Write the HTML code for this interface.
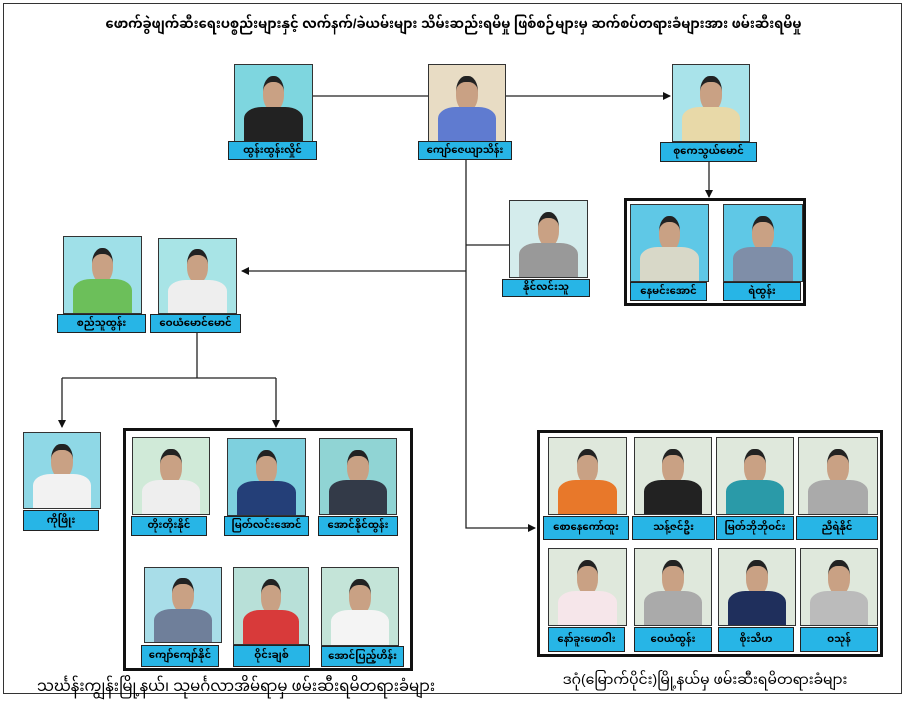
<!DOCTYPE html>
<html><head><meta charset="utf-8"><style>
body{margin:0;width:907px;height:699px;background:#fff;position:relative;overflow:hidden;font-family:"Liberation Sans","Noto Sans Myanmar","Padauk","Myanmar Text",sans-serif}
.a{position:absolute}
.p{position:absolute;border:1px solid #333;background:#c9e6e4;overflow:hidden}
.p .h{position:absolute;left:36%;top:14%;width:28%;height:38%;border-radius:45%;background:#c9a184;border-top:6px solid #222}
.p .b{position:absolute;left:12%;top:55%;width:76%;height:50%;border-radius:30% 30% 0 0}
.l{position:absolute;background:#27b5e6;border:1.5px solid #222;font-size:10px;font-weight:bold;display:flex;align-items:center;justify-content:center;color:#000;white-space:nowrap;box-sizing:border-box}
.box{position:absolute;border:3px solid #111;box-sizing:border-box}
svg{position:absolute;left:0;top:0}
</style></head><body>
<div class="a" style="left:3px;top:3px;width:899px;height:691px;border:1.5px solid #333;box-sizing:border-box"></div>
<div class="a" style="left:0;top:12px;width:907px;text-align:center;font-size:13px;font-weight:bold">ဖောက်ခွဲဖျက်ဆီးရေးပစ္စည်းများနှင့် လက်နက်/ခဲယမ်းများ သိမ်းဆည်းရမိမှု ဖြစ်စဉ်များမှ ဆက်စပ်တရားခံများအား ဖမ်းဆီးရမိမှု</div>

<svg width="907" height="699">
<defs><marker id="m" markerWidth="8" markerHeight="8" refX="7" refY="4" orient="auto" markerUnits="userSpaceOnUse"><path d="M0,0L8,4L0,8z" fill="#111"/></marker></defs>
<g stroke="#222" stroke-width="1.3" fill="none">
<line x1="311" y1="96" x2="428" y2="96"/>
<line x1="504" y1="96" x2="670" y2="96" marker-end="url(#m)"/>
<line x1="709" y1="162" x2="709" y2="197" marker-end="url(#m)"/>
<polyline points="466,160 466,528 535,528" marker-end="url(#m)"/>
<line x1="466" y1="271" x2="242" y2="271" marker-end="url(#m)"/>
<line x1="466" y1="245" x2="509" y2="245"/>
<line x1="197" y1="333" x2="197" y2="378"/>
<line x1="62" y1="378" x2="276" y2="378"/>
<line x1="62" y1="378" x2="62" y2="427" marker-end="url(#m)"/>
<line x1="276" y1="378" x2="276" y2="427" marker-end="url(#m)"/>
</g></svg>

<div class="p" style="left:234px;top:64px;width:77px;height:76px;background:#7ed6df"><div class="h"></div><div class="b" style="background:#222"></div></div>
<div class="l" style="left:228px;top:141px;width:89px;height:19px">ထွန်းထွန်းလှိုင်</div>
<div class="p" style="left:428px;top:64px;width:76px;height:76px;background:#e8dcc4"><div class="h"></div><div class="b" style="background:#5f7bd0"></div></div>
<div class="l" style="left:418px;top:141px;width:94px;height:19px">ကျော်ဇေယျာသိန်း</div>
<div class="p" style="left:672px;top:64px;width:76px;height:76px;background:#a9e3ea"><div class="h"></div><div class="b" style="background:#e8d9a8"></div></div>
<div class="l" style="left:660px;top:142px;width:97px;height:20px">စုကေသွယ်မောင်</div>

<div class="box" style="left:624px;top:198px;width:182px;height:108px"></div>
<div class="p" style="left:630px;top:204px;width:77px;height:76px;background:#5fc8e6"><div class="h"></div><div class="b" style="background:#d8d8c8"></div></div>
<div class="l" style="left:630px;top:282px;width:77px;height:19px">နေမင်းအောင်</div>
<div class="p" style="left:723px;top:204px;width:78px;height:76px;background:#5fc8e6"><div class="h"></div><div class="b" style="background:#7f8ea8"></div></div>
<div class="l" style="left:723px;top:282px;width:78px;height:19px">ရဲထွန်း</div>

<div class="p" style="left:509px;top:200px;width:77px;height:76px;background:#d4ecec"><div class="h"></div><div class="b" style="background:#999"></div></div>
<div class="l" style="left:502px;top:279px;width:88px;height:18px">နိုင်လင်းသူ</div>

<div class="p" style="left:63px;top:236px;width:77px;height:76px;background:#9fe0e8"><div class="h"></div><div class="b" style="background:#6cbf5a"></div></div>
<div class="l" style="left:57px;top:314px;width:89px;height:19px">စည်သူထွန်း</div>
<div class="p" style="left:158px;top:238px;width:77px;height:74px;background:#a8e4e6"><div class="h"></div><div class="b" style="background:#eee"></div></div>
<div class="l" style="left:150px;top:314px;width:91px;height:19px">ဝေယံမောင်မောင်</div>

<div class="p" style="left:23px;top:432px;width:76px;height:75px;background:#8fd8e6"><div class="h"></div><div class="b" style="background:#f2f2f2"></div></div>
<div class="l" style="left:23px;top:510px;width:76px;height:21px">ကိုဖြိုး</div>

<div class="box" style="left:123px;top:428px;width:290px;height:243px"></div>
<div class="p" style="left:132px;top:437px;width:76px;height:76px;background:#d0ead8"><div class="h"></div><div class="b" style="background:#eee"></div></div>
<div class="l" style="left:131px;top:516px;width:76px;height:20px">တိုးတိုးနိုင်</div>
<div class="p" style="left:227px;top:438px;width:77px;height:76px;background:#7ed0de"><div class="h"></div><div class="b" style="background:#243f78"></div></div>
<div class="l" style="left:224px;top:516px;width:85px;height:20px">မြတ်လင်းအောင်</div>
<div class="p" style="left:319px;top:438px;width:76px;height:75px;background:#90d4d4"><div class="h"></div><div class="b" style="background:#333a48"></div></div>
<div class="l" style="left:318px;top:516px;width:80px;height:20px">အောင်နိုင်ထွန်း</div>
<div class="p" style="left:144px;top:567px;width:76px;height:74px;background:#a8dde8"><div class="h"></div><div class="b" style="background:#6f7f9a"></div></div>
<div class="l" style="left:141px;top:645px;width:78px;height:22px">ကျော်ကျော်နိုင်</div>
<div class="p" style="left:233px;top:567px;width:74px;height:76px;background:#b8e0d8"><div class="h"></div><div class="b" style="background:#d83a3a"></div></div>
<div class="l" style="left:233px;top:645px;width:77px;height:22px">ဝိုင်းချစ်</div>
<div class="p" style="left:321px;top:567px;width:76px;height:77px;background:#c4e4d8"><div class="h"></div><div class="b" style="background:#f4f4f4"></div></div>
<div class="l" style="left:321px;top:646px;width:83px;height:21px">အောင်ပြည့်ဟိန်း</div>
<div class="a" style="left:37px;top:671px;font-size:15px;white-space:nowrap">သင်္ဃန်းကျွန်းမြို့နယ်၊ သုမင်္ဂလာအိမ်ရာမှ ဖမ်းဆီးရမိတရားခံများ</div>

<div class="box" style="left:537px;top:430px;width:346px;height:227px"></div>
<div class="p" style="left:548px;top:437px;width:77px;height:76px;background:#dfe8dc"><div class="h"></div><div class="b" style="background:#e8782a"></div></div>
<div class="l" style="left:543px;top:516px;width:86px;height:24px">စောနေကော်ထူး</div>
<div class="p" style="left:634px;top:437px;width:76px;height:76px;background:#dfe8dc"><div class="h"></div><div class="b" style="background:#222"></div></div>
<div class="l" style="left:632px;top:516px;width:83px;height:24px">သန့်ဇင်ဦး</div>
<div class="p" style="left:716px;top:437px;width:76px;height:76px;background:#dfe8dc"><div class="h"></div><div class="b" style="background:#2a9aa8"></div></div>
<div class="l" style="left:716px;top:516px;width:78px;height:24px">မြတ်ဘိုဘိုဝင်း</div>
<div class="p" style="left:798px;top:437px;width:78px;height:76px;background:#dfe8dc"><div class="h"></div><div class="b" style="background:#aaa"></div></div>
<div class="l" style="left:796px;top:516px;width:82px;height:24px">ညီရဲနိုင်</div>
<div class="p" style="left:548px;top:548px;width:77px;height:76px;background:#dfe8dc"><div class="h"></div><div class="b" style="background:#f6e6ea"></div></div>
<div class="l" style="left:548px;top:627px;width:77px;height:25px">နော်ခူးဖောဝါး</div>
<div class="p" style="left:634px;top:548px;width:76px;height:76px;background:#dfe8dc"><div class="h"></div><div class="b" style="background:#aaa"></div></div>
<div class="l" style="left:634px;top:627px;width:78px;height:25px">ဝေယံထွန်း</div>
<div class="p" style="left:718px;top:548px;width:76px;height:76px;background:#dfe8dc"><div class="h"></div><div class="b" style="background:#1f2f5c"></div></div>
<div class="l" style="left:718px;top:627px;width:76px;height:25px">စိုးသီဟ</div>
<div class="p" style="left:800px;top:548px;width:76px;height:76px;background:#dfe8dc"><div class="h"></div><div class="b" style="background:#bbb"></div></div>
<div class="l" style="left:800px;top:627px;width:78px;height:25px">ဝသုန်</div>
<div class="a" style="left:560px;top:666px;width:290px;text-align:center;font-size:14px;white-space:nowrap">ဒဂုံ(မြောက်ပိုင်း)မြို့နယ်မှ ဖမ်းဆီးရမိတရားခံများ</div>
</body></html>
